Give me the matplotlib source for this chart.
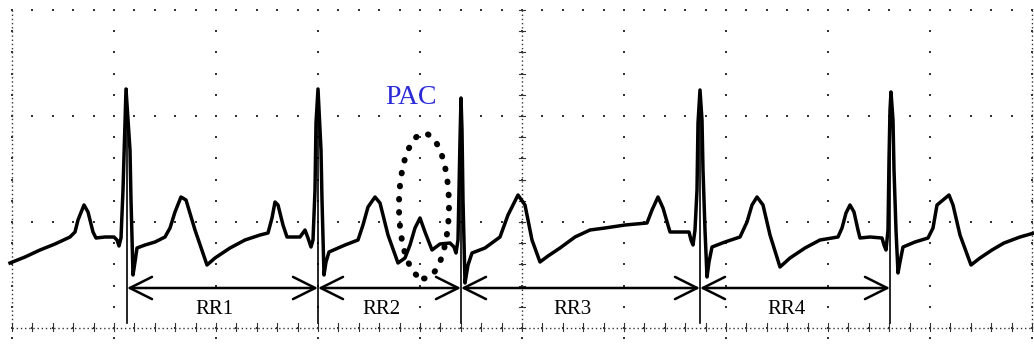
import matplotlib
matplotlib.use("Agg")
import matplotlib.pyplot as plt
from matplotlib.patches import Ellipse
import numpy as np

# ECG trace (time / amplitude in screen units,
# 102 units per horizontal division, 106 per vertical division)
time = [-2, 13, 28, 43, 58, 63, 66, 72, 76, 81, 84, 93, 102, 105, 107, 109, 111, 113, 114, 116,
        118, 119, 121, 123, 125, 133, 143, 153, 158, 163, 169, 174, 183, 195, 203, 218, 233, 248,
        256, 260, 263, 266, 271, 275, 288, 293, 296, 299, 301, 303, 304, 306, 307, 309, 310, 312,
        314, 317, 333, 346, 351, 356, 363, 368, 376, 386, 393, 398, 403, 408, 413, 420, 428, 438,
        442, 444, 446, 447, 448, 449, 450, 451, 453, 456, 460, 473, 488, 496, 506, 513, 520, 528,
        536, 548, 563, 578, 593, 613, 635, 640, 646, 651, 658, 668, 677, 679, 681, 683, 685, 686,
        688, 690, 691, 693, 695, 697, 700, 713, 728, 735, 740, 745, 751, 758, 768, 778, 793, 808,
        826, 830, 834, 838, 842, 846, 848, 858, 870, 872, 874, 876, 877, 878, 879, 881, 882, 884,
        886, 888, 891, 903, 916, 921, 925, 931, 937, 941, 948, 959, 968, 980, 992, 1008, 1022]
amplitude = [65, 71, 78, 84, 91, 96, 108, 123, 116, 96, 90, 91, 91, 88, 82, 90, 138, 205, 239, 208,
             178, 128, 53, 66, 80, 83, 86, 91, 100, 116, 131, 128, 98, 63, 70, 80, 88, 93,
             95, 110, 126, 123, 103, 91, 91, 98, 90, 81, 88, 138, 205, 239, 218, 178, 128, 53,
             66, 76, 83, 88, 103, 121, 131, 125, 93, 65, 70, 83, 100, 110, 96, 78, 84, 85,
             81, 75, 88, 138, 188, 230, 198, 128, 45, 63, 75, 80, 91, 113, 133, 123, 88, 66,
             72, 80, 91, 98, 100, 103, 105, 118, 131, 120, 96, 96, 96, 88, 83, 98, 138, 205,
             238, 208, 158, 98, 51, 66, 81, 86, 91, 106, 123, 131, 123, 93, 61, 70, 80, 88,
             91, 100, 115, 123, 116, 98, 90, 91, 90, 83, 78, 98, 168, 218, 236, 208, 158, 98,
             55, 66, 81, 86, 90, 100, 123, 128, 133, 123, 93, 63, 70, 78, 85, 91, 95]

# R peaks used as RR interval markers
r_times = [115, 306, 449, 688, 878]
r_peaks = [239, 239, 230, 238, 236]
rr_labels = ["RR1", "RR2", "RR3", "RR4"]

pac_center = (412, 122)
pac_label = "PAC"

x_div, y_div = 102, 106
n_x, n_y = 10, 3

fig = plt.figure(figsize=(10.34, 3.47), dpi=100)
ax = fig.add_axes([0, 0, 1, 1])
ax.set_xlim(-12, 1022)
ax.set_ylim(-19, 328)
ax.axis("off")

dot = dict(ls="none", marker="s", ms=1.8, color="#333333", mew=0)

# graticule: major lines as dots at 1/5 division
v_minor = np.arange(0, n_y * y_div + 1, y_div / 5)
t_minor = np.arange(0, n_x * x_div + 1, x_div / 5)
for k in range(n_x + 1):
    ax.plot(np.full_like(v_minor, k * x_div), v_minor, **dot)
for j in range(n_y + 1):
    ax.plot(t_minor, np.full_like(t_minor, j * y_div), **dot)

# dense border / axis lines
dense = dict(color="#333333", lw=1.0, ls=(0, (1, 2)))
ax.plot([0, 0], [0, n_y * y_div], **dense)
ax.plot([n_x * x_div, n_x * x_div], [0, n_y * y_div], **dense)
ax.plot([0, n_x * x_div], [0, 0], **dense)
ax.plot([5 * x_div, 5 * x_div], [0, n_y * y_div], **dense)
for v in v_minor:
    ax.plot([5 * x_div - 3, 5 * x_div + 3], [v, v], color="#333333", lw=0.8)
for t in t_minor:
    ax.plot([t, t], [-3, 5], color="#333333", lw=0.8)
ax.plot(np.arange(n_x + 1) * x_div, np.full(n_x + 1, -10), **dot)

# ECG trace
ax.plot(time, amplitude, color="black", lw=2.5, solid_joinstyle="round")

# RR markers
arrow_level = 40
for t, peak in zip(r_times, r_peaks):
    ax.plot([t, t], [5, peak], color="black", lw=1.2)
for i, lab in enumerate(rr_labels):
    ax.annotate("", xy=(r_times[i], arrow_level), xytext=(r_times[i + 1], arrow_level),
                arrowprops=dict(arrowstyle="<->, head_length=1.0, head_width=0.5",
                                mutation_scale=16, lw=1.8, color="black",
                                shrinkA=0, shrinkB=0))
    mid = (r_times[i] + r_times[i + 1]) / 2
    ax.text(mid - 8, 18, lab, ha="center", va="center", fontsize=15,
            family="Liberation Serif", color="black")

# PAC highlight (dotted ellipse)
ell = Ellipse(pac_center, 50, 145, fill=False, ec="black", lw=4.3,
              ls=(0, (0.1, 2.1)), capstyle="round")
ax.add_patch(ell)
ax.text(pac_center[0] - 13, 231, pac_label, ha="center", va="center", fontsize=20,
        family="Liberation Serif", color="#2b2bd9")

fig.savefig("out.png", dpi=100)
